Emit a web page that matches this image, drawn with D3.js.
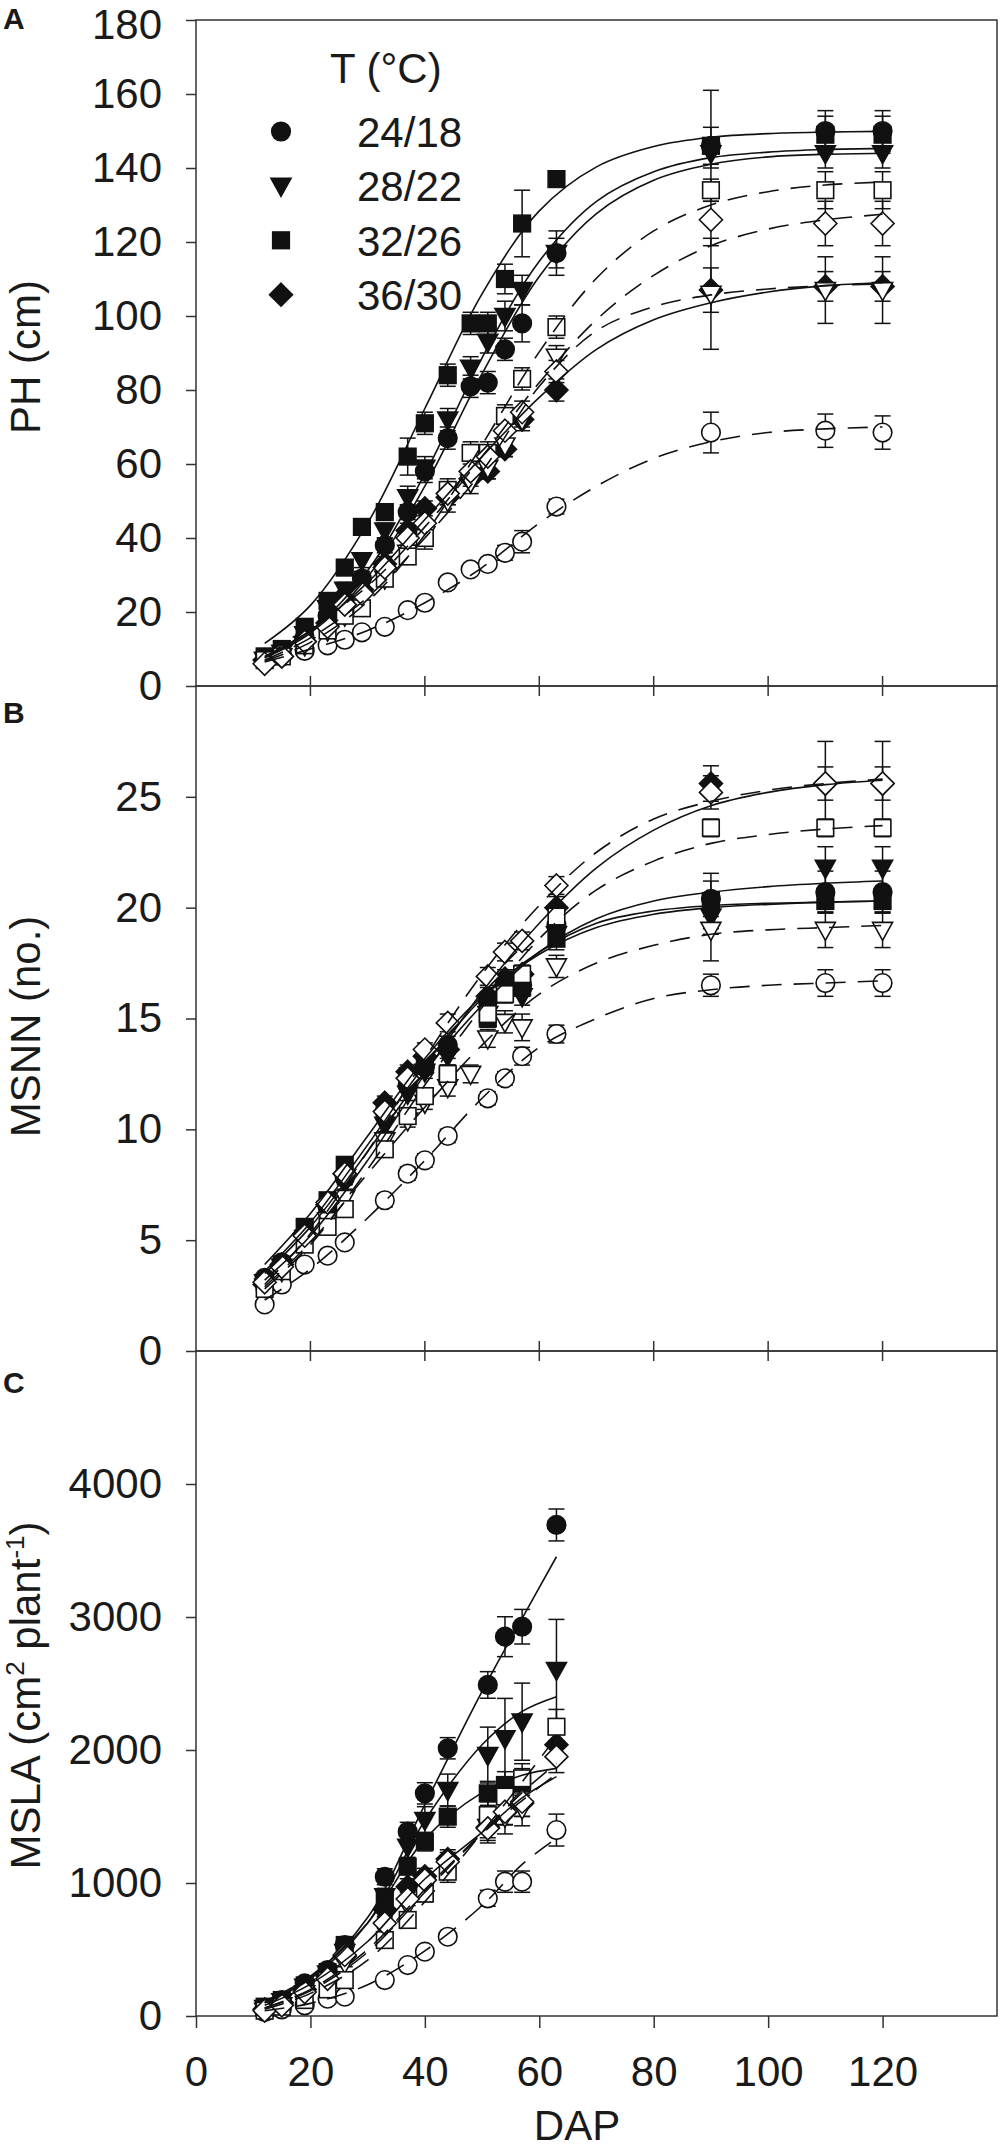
<!DOCTYPE html>
<html><head><meta charset="utf-8">
<script src="https://cdn.jsdelivr.net/npm/d3@7"></script>
<style>
body{margin:0;background:#fff}
text{font-family:"Liberation Sans",Arial,Helvetica,sans-serif;fill:#1a1a1a}
</style>
</head><body>
<svg id="chart" width="1000" height="2150"></svg>
<script>
// ---------------- DATA ----------------
const dap   = [12,15,19,23,26,29,33,37,40,44,48,51,54,57,63,90,110,120];
const dapLA = [12,15,19,23,26,29,33,37,40,44,48,51,54,57,63];
const fitDap   = [12,20,30,40,50,60,70,80,90,100,110,120];
const fitDapLA = [12,20,30,40,50,57,63];
const temps = ["24/18","28/22","32/26","36/30"];
const xTicks = [0,20,40,60,80,100,120];
const phTicks = [0,20,40,60,80,100,120,140,160,180];
const msnnTicks = [0,5,10,15,20,25];
const mslaTicks = [0,1000,2000,3000,4000];

// Panel A: plant height (cm)
const phF24 = [7,8,13,19,24,29,38,47,58,67,81,82,91,98,117,146,150,150];
const phF28 = [7,9,14,21,26,34,42,51,59,72,86,93,100,107,117,144,144,144];
const phF32 = [8,10,16,23,32,43,47,62,71,84,98,98,110,125,137,146,149,149];
const phF36 = [7,8,12,17,20,26,33,42,48,51,56,58,64,72,80,107,108,108];
const phO24 = [7,8.5,9.5,11,12.5,14.5,16,20.5,22.5,28,31.5,33,36,39,48.5,68.5,69,68.5];
const phO28 = [7,8,11,15,19,24,29,36,41,50,55,59,65,72,89,106,107,107];
const phO32 = [7,8,11,15,19,21,29,35,40,53,63,63,73,83,97,134,134,134];
const phO36 = [6,8,12,16,22,25,32,40,44,52,58,62,69,74,85,126,125,125];
const phErrF24 = [1,1,1,1.5,1.5,2,2,2,3,3,3,3,3,5,6,5,5.5,5.5];
const phErrF28 = [1,1,1,1.5,2,2,2,3,3,3,3,3,4,4,4,4,4,4];
const phErrF32 = [1,1,1,1.5,2,2,2,5,3,3,3,3,4,9,2,15,5,5];
const phErrF36 = [1,1,1,1,1.5,2,2,2,2,2,2,2,2,2,3,6,4,4];
const phErrO24 = [0.5,0.5,0.5,0.5,0.5,0.5,0.5,1,1,1,1,1,2,3,2,5.5,4.5,4.5];
const phErrO28 = [1,1,1,1,1.5,2,2,2,2,3,3,3,3,3,3,15,9,9];
const phErrO32 = [1,1,1,1,1.5,2,2,2,3,3,3,3,3,3,3,3,5,5];
const phErrO36 = [1,1,1,1,1.5,2,2,2,3,3,3,3,3,3,3,7,6,6];
const phFitF24 = [7.6,14.3,29.5,54,84.4,110.7,127.7,136.7,141,143,143.7,144];
const phFitF28 = [7.7,14.8,31.2,57.3,88.7,114.8,131,139,142.8,144.3,145,145.3];
const phFitF32 = [11.5,21.8,44,75,106,128.4,140.3,145.8,148.3,149.3,149.7,149.9];
const phFitF36 = [8,15,28,45,62,78,91,99,103.6,106.5,108.2,109];
const phFitO24 = [6.5,10,15,22.5,32,44,54,61.5,66,68.5,69.5,70];
const phFitO28 = [7,13,24,40,58,81,96,102.5,105.7,107.3,108.2,108.7];
const phFitO32 = [6.7,11.8,22.8,40.9,65.2,90.3,110.2,123,130,133.6,135.4,136.2];
const phFitO36 = [9,16,27,43,62,82,99,111,119,123.5,126,127.5];

// Panel B: main stem node number
const msF24 = [3.3,4.0,5.3,6.5,7.8,null,10.8,12.0,12.8,13.8,null,15.8,16.6,16.5,19.2,20.4,20.7,20.7];
const msF28 = [3.1,3.8,5.1,6.4,7.6,null,10.2,11.6,12.6,13.3,null,15.2,16.2,16.0,18.8,19.6,21.8,21.8];
const msF32 = [3.1,3.9,5.6,6.8,8.4,null,10.9,12.4,13.0,12.4,null,15.0,16.2,16.4,18.6,20.3,20.3,20.3];
const msF36 = [3.0,3.9,5.3,6.6,8.0,null,11.2,12.6,13.3,13.6,null,16.0,16.8,17.0,20.0,25.6,25.6,25.6];
const msO24 = [2.1,3.0,3.9,4.3,4.9,null,6.8,8.0,8.6,9.7,null,11.4,12.3,13.3,14.3,16.5,16.6,16.6];
const msO28 = [2.9,3.6,4.9,5.9,6.9,null,9.5,10.4,11.2,11.9,12.5,14.1,14.85,14.6,17.35,19.0,19.0,19.0];
const msO32 = [2.8,3.6,4.8,5.6,6.4,null,9.1,10.6,11.5,12.5,null,15.2,16.1,17.0,19.6,23.6,23.6,23.6];
const msO36 = [3.1,3.8,5.2,6.7,8.0,null,10.8,12.3,13.6,14.8,null,16.9,18.0,18.5,21.0,25.2,25.6,25.6];
const msErrF24 = [0.2,0.2,0.2,0.2,0.3,0,0.3,0.3,0.3,0.4,0,0.4,0.4,0.4,0.5,0.8,0.95,0.95];
const msErrF28 = [0.2,0.2,0.2,0.2,0.3,0,0.3,0.3,0.3,0.4,0,0.4,0.4,0.4,0.5,0.8,0.95,0.95];
const msErrF32 = [0.2,0.2,0.2,0.2,0.3,0,0.3,0.3,0.3,0.4,0,0.4,0.4,0.4,0.5,1.25,0.5,0.5];
const msErrF36 = [0.2,0.2,0.2,0.2,0.3,0,0.3,0.3,0.3,0.4,0,0.4,0.4,0.4,0.5,0.8,0.75,0.75];
const msErrO24 = [0.2,0.2,0.2,0.2,0.2,0,0.3,0.3,0.3,0.3,0,0.3,0.3,0.4,0.4,0.5,0.6,0.6];
const msErrO28 = [0.2,0.2,0.2,0.2,0.3,0,0.3,0.3,0.3,0.4,0.4,0.4,0.5,0.6,0.5,1.4,0.8,0.8];
const msErrO32 = [0.2,0.2,0.2,0.2,0.3,0,0.3,0.3,0.3,0.4,0,0.4,0.4,0.4,0.5,0.4,0.4,0.4];
const msErrO36 = [0.2,0.2,0.2,0.2,0.3,0,0.3,0.3,0.3,0.4,0,0.4,0.4,0.4,0.4,0.75,1.9,1.9];
const msFitF24 = [3.6,5.8,9.3,12.9,15.9,18.0,19.3,19.85,20.1,20.2,20.25,20.3];
const msFitF28 = [3.5,5.6,9.0,12.6,15.6,18.0,19.5,20.3,20.7,20.95,21.1,21.2];
const msFitF32 = [3.9,6.2,9.7,13.2,16.0,17.9,19.1,19.7,20.0,20.15,20.25,20.3];
const msFitF36 = [3.2,5.2,8.6,12.5,16.2,19.3,21.8,23.5,24.6,25.2,25.55,25.75];
const msFitO24 = [2.3,3.7,6.0,8.6,11.4,13.7,15.0,15.9,16.3,16.5,16.6,16.7];
const msFitO28 = [2.9,4.9,8.0,11.0,13.8,16.1,17.5,18.3,18.8,19.0,19.1,19.2];
const msFitO32 = [2.8,4.8,8.2,12.0,15.5,18.6,20.8,22.1,22.9,23.3,23.55,23.7];
const msFitO36 = [3.0,5.3,9.0,13.2,17.0,20.1,22.5,24.0,24.8,25.3,25.6,25.8];

// Panel C: main stem leaf area (cm2 plant-1)
const laF24 = [60,120,246,346,534,null,1047,1386,1674,2013,null,2489,2852,2927,3692];
const laF28 = [60,110,220,320,480,null,900,1273,1474,1699,null,1962,2088,2213,2602];
const laF32 = [70,120,230,330,534,null,872,1123,1311,1499,null,1674,1737,1760,null];
const laF36 = [50,100,200,300,450,null,800,972,1050,1180,null,1420,1530,1600,2040];
const laO24 = [30,50,80,130,145,null,270,383,484,596,null,885,1010,1010,1398];
const laO28 = [40,80,170,270,400,null,650,830,960,1120,null,1420,1499,1560,null];
const laO32 = [40,70,120,200,270,null,571,722,920,1085,null,1511,1650,1787,2175];
const laO36 = [40,80,180,280,459,null,697,880,1022,1160,null,1411,1536,1611,1950];
const laErrF24 = [10,15,20,30,40,0,60,70,80,80,0,100,150,130,120];
const laErrF28 = [10,15,20,30,40,0,60,80,100,120,0,210,300,290,380];
const laErrF32 = [10,15,20,30,40,0,50,60,70,80,0,90,100,100,0];
const laErrF36 = [10,10,20,30,40,0,50,60,60,70,0,80,90,100,100];
const laErrO24 = [5,5,10,15,20,0,20,30,30,40,0,60,80,80,120];
const laErrO28 = [5,10,15,20,30,0,40,50,60,70,0,100,130,130,0];
const laErrO32 = [5,10,15,20,30,0,40,50,60,80,0,100,100,110,130];
const laErrO36 = [5,10,15,20,30,0,40,50,60,70,0,110,100,110,120];
const laFitF24 = [100,290,740,1590,2440,2990,3453];
const laFitF28 = [100,280,700,1470,2040,2290,2401];
const laFitF32 = [110,300,700,1330,1680,1810,1862];
const laFitF36 = [80,240,560,1030,1380,1640,1800];
const laFitO24 = [40,95,235,490,830,1140,1336];
const laFitO28 = [60,190,480,930,1370,1620,1820];
const laFitO32 = [50,170,420,860,1380,1760,2100];
const laFitO36 = [60,200,500,950,1380,1680,1900];

// ---------------- LAYOUT ----------------
const svg = d3.select("#chart");
const L = 196, R = 997;
const x = d3.scaleLinear().domain([0,140]).range([L,R]);
const shapes = ["circle","triangle","square","diamond"];

const panels = [
  {letter:"A", top:20, bottom:686, domain:[0,180], ticks:phTicks, title:"PH (cm)", tOff:4,
   xs:dap, fx:fitDap,
   filled:[phF24,phF28,phF32,phF36], open:[phO24,phO28,phO32,phO36],
   errF:[phErrF24,phErrF28,phErrF32,phErrF36], errO:[phErrO24,phErrO28,phErrO32,phErrO36],
   fitF:[phFitF24,phFitF28,phFitF32,phFitF36], fitO:[phFitO24,phFitO28,phFitO32,phFitO36], crossTicks:true},
  {letter:"B", top:686, bottom:1351, domain:[0,30], ticks:msnnTicks, title:"MSNN (no.)", tOff:8,
   xs:dap, fx:fitDap,
   filled:[msF24,msF28,msF32,msF36], open:[msO24,msO28,msO32,msO36],
   errF:[msErrF24,msErrF28,msErrF32,msErrF36], errO:[msErrO24,msErrO28,msErrO32,msErrO36],
   fitF:[msFitF24,msFitF28,msFitF32,msFitF36], fitO:[msFitO24,msFitO28,msFitO32,msFitO36], crossTicks:true},
  {letter:"C", top:1351, bottom:2016, domain:[0,5000], ticks:mslaTicks, title:null, tOff:12,
   xs:dapLA, fx:fitDapLA,
   filled:[laF24,laF28,laF32,laF36], open:[laO24,laO28,laO32,laO36],
   errF:[laErrF24,laErrF28,laErrF32,laErrF36], errO:[laErrO24,laErrO28,laErrO32,laErrO36],
   fitF:[laFitF24,laFitF28,laFitF32,laFitF36], fitO:[laFitO24,laFitO28,laFitO32,laFitO36], crossTicks:false}
];

const INK = "#111";
function marker(g, type, cx, cy, filled){
  let el;
  if(type==="circle") el = g.append("circle").attr("cx",cx).attr("cy",cy).attr("r",9.3);
  else if(type==="square") el = g.append("rect").attr("x",cx-8.3).attr("y",cy-8.3).attr("width",16.6).attr("height",16.6);
  else if(type==="triangle") el = g.append("path").attr("d",`M${cx-10},${cy-7.5}L${cx+10},${cy-7.5}L${cx},${cy+10.5}Z`);
  else el = g.append("path").attr("d",`M${cx},${cy-11.5}L${cx+11.5},${cy}L${cx},${cy+11.5}L${cx-11.5},${cy}Z`);
  el.attr("fill", filled?INK:"#fff").attr("stroke",INK).attr("stroke-width",1.6);
}

panels.forEach(p=>{
  const y = d3.scaleLinear().domain(p.domain).range([p.bottom,p.top]);
  const g = svg.append("g");

  // frame
  g.append("rect").attr("x",L).attr("y",p.top).attr("width",R-L).attr("height",p.bottom-p.top)
    .attr("fill","none").attr("stroke","#333").attr("stroke-width",1.5);

  // y axis
  const ya = g.append("g").attr("transform",`translate(${L},0)`)
    .call(d3.axisLeft(y).tickValues(p.ticks).tickSize(10).tickPadding(24).tickFormat(d3.format("d")));
  ya.select(".domain").remove();
  ya.selectAll("line").attr("stroke","#333").attr("stroke-width",1.5);
  ya.selectAll("text").attr("font-size",42).attr("fill","#1a1a1a")
    .style("font-family",'"Liberation Sans",Arial,sans-serif');
  // keep the topmost label fully inside the page
  ya.selectAll(".tick text").filter(d=>y(d)<30).attr("dy","0.45em");

  // x ticks
  if(p.crossTicks){
    g.selectAll(".xt").data(xTicks.filter(d=>d>0)).enter().append("line")
      .attr("x1",d=>x(d)).attr("x2",d=>x(d)).attr("y1",p.bottom-10).attr("y2",p.bottom+10)
      .attr("stroke","#333").attr("stroke-width",1.5);
  } else {
    const xa = g.append("g").attr("transform",`translate(0,${p.bottom})`)
      .call(d3.axisBottom(x).tickValues(xTicks).tickSize(12).tickPadding(28).tickFormat(d3.format("d")));
    xa.select(".domain").remove();
    xa.selectAll("line").attr("stroke","#333").attr("stroke-width",1.5);
    xa.selectAll("text").attr("font-size",42).attr("fill","#1a1a1a")
      .style("font-family",'"Liberation Sans",Arial,sans-serif');
  }

  // panel letter
  g.append("text").attr("x",3).attr("y",p.top+(p.letter==="A"?9:37)+(p.letter==="C"?5:0))
    .attr("font-size",30).attr("font-weight","bold").attr("fill","#000").text(p.letter);

  // y title
  const cy = (p.top+p.bottom)/2 + p.tOff;
  const tt = g.append("text").attr("transform",`translate(40,${cy}) rotate(-90)`)
    .attr("text-anchor","middle").attr("font-size",42);
  if(p.title){ tt.text(p.title); }
  else {
    tt.append("tspan").text("MSLA (cm");
    tt.append("tspan").attr("font-size",26).attr("dy",-16).text("2");
    tt.append("tspan").attr("dy",16).text(" plant");
    tt.append("tspan").attr("font-size",26).attr("dy",-16).text("-1");
    tt.append("tspan").attr("dy",16).text(")");
  }

  // error bars
  const eg = g.append("g").attr("stroke",INK).attr("stroke-width",1.5);
  const drawErr = (vals, errs)=>{
    vals.forEach((v,i)=>{
      if(v==null || !errs[i]) return;
      const cx = x(p.xs[i]), y1 = y(v-errs[i]), y2 = y(v+errs[i]);
      eg.append("line").attr("x1",cx).attr("x2",cx).attr("y1",y1).attr("y2",y2);
      eg.append("line").attr("x1",cx-8).attr("x2",cx+8).attr("y1",y1).attr("y2",y1);
      eg.append("line").attr("x1",cx-8).attr("x2",cx+8).attr("y1",y2).attr("y2",y2);
    });
  };
  p.filled.forEach((s,k)=>drawErr(s,p.errF[k]));
  p.open.forEach((s,k)=>drawErr(s,p.errO[k]));

  // markers (filled first, then open)
  const mg = g.append("g");
  p.filled.forEach((s,k)=>s.forEach((v,i)=>{ if(v!=null) marker(mg,shapes[k],x(p.xs[i]),y(v),true); }));
  p.open.forEach((s,k)=>s.forEach((v,i)=>{ if(v!=null) marker(mg,shapes[k],x(p.xs[i]),y(v),false); }));

  // fitted curves
  const line = d3.line().x((d,i)=>x(p.fx[i])).y(d=>y(d)).curve(d3.curveCatmullRom.alpha(0.5));
  const cg = g.append("g").attr("fill","none").attr("stroke",INK).attr("stroke-width",1.6);
  p.fitF.forEach(f=>cg.append("path").attr("d",line(f)));
  p.fitO.forEach(f=>cg.append("path").attr("d",line(f)).attr("stroke-dasharray","20,12"));
});

// x-axis title
svg.append("text").attr("x",577).attr("y",2140).attr("text-anchor","middle")
  .attr("font-size",42).text("DAP");

// legend
const lg = svg.append("g");
lg.append("text").attr("x",330).attr("y",83).attr("font-size",42).text("T (°C)");
temps.forEach((t,i)=>{
  const base = 147 + i*54.4;
  lg.append("text").attr("x",357).attr("y",base).attr("font-size",42).text(t);
  marker(lg, shapes[i], 281, base-15.5, true);
});
</script>
</body></html>
